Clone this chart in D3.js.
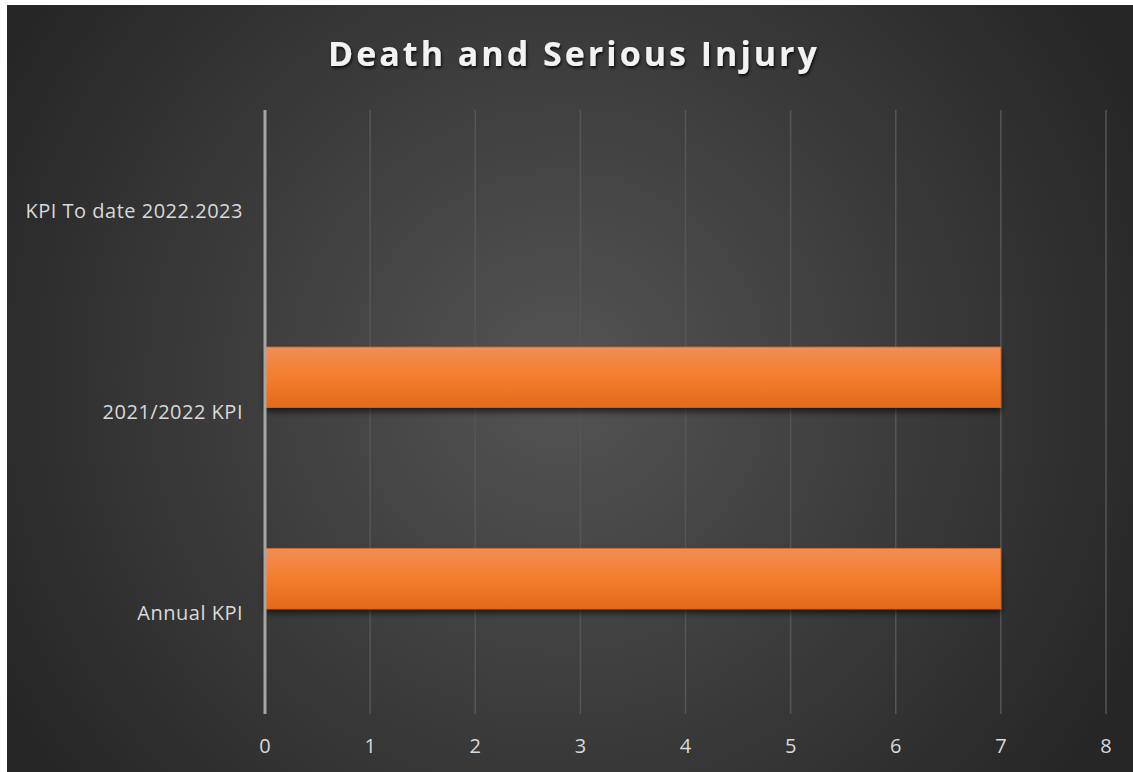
<!DOCTYPE html>
<html>
<head>
<meta charset="utf-8">
<script src="https://cdn.jsdelivr.net/npm/d3@7"></script>
<style>
  body { margin: 0; background: #fff; }
  svg { display: block; }
</style>
</head>
<body>
<div id="chart"></div>
<script>
const width = 1133;
const height = 772;
const margin = { top: 110, bottom: 58, left: 265, right: 27 };
const innerWidth = width - margin.left - margin.right;
const innerHeight = height - margin.top - margin.bottom;

// data (top to bottom)
const categories = ['KPI To date 2022.2023', '2021/2022 KPI', 'Annual KPI'];
const kpiValues = [null, 7, 7];
const seriesNames = ['KPI', 'blank'];
const xTicks = [0, 1, 2, 3, 4, 5, 6, 7, 8];

const svg = d3.select('#chart').append('svg')
  .attr('width', width)
  .attr('height', height);

const defs = svg.append('defs');

const bg = defs.append('radialGradient')
  .attr('id', 'bgGrad')
  .attr('gradientUnits', 'userSpaceOnUse')
  .attr('cx', 560).attr('cy', 380).attr('r', 640);
bg.append('stop').attr('offset', '0%').attr('stop-color', '#545454');
bg.append('stop').attr('offset', '100%').attr('stop-color', '#262626');

const barGrad = defs.append('linearGradient')
  .attr('id', 'barGrad')
  .attr('x1', 0).attr('y1', 0).attr('x2', 0).attr('y2', 1);
barGrad.append('stop').attr('offset', '0%').attr('stop-color', '#f18d57');
barGrad.append('stop').attr('offset', '50%').attr('stop-color', '#f47d2c');
barGrad.append('stop').attr('offset', '100%').attr('stop-color', '#e3691a');

const shadow = defs.append('filter').attr('id', 'barShadow')
  .attr('x', '-5%').attr('y', '-20%').attr('width', '110%').attr('height', '160%');
shadow.append('feDropShadow')
  .attr('dx', 0).attr('dy', 4).attr('stdDeviation', 3)
  .attr('flood-color', '#000').attr('flood-opacity', 0.6);

const titleShadow = defs.append('filter').attr('id', 'titleShadow');
titleShadow.append('feDropShadow')
  .attr('dx', 1).attr('dy', 2).attr('stdDeviation', 1.5)
  .attr('flood-color', '#000').attr('flood-opacity', 0.8);

// chart background
svg.append('rect')
  .attr('x', 7).attr('y', 5)
  .attr('width', width - 7).attr('height', height - 5)
  .attr('fill', 'url(#bgGrad)');

svg.append('text')
  .attr('x', 574)
  .attr('y', 54)
  .attr('dy', '0.35em')
  .attr('text-anchor', 'middle')
  .attr('fill', '#f2f2f2')
  .style('font-family', '"Open Sans", sans-serif')
  .style('font-size', '34px')
  .style('font-weight', 'bold')
  .style('letter-spacing', '3px')
  .attr('filter', 'url(#titleShadow)')
  .text('Death and Serious Injury');

const g = svg.append('g')
  .attr('transform', `translate(${margin.left}, ${margin.top})`);

const xScale = d3.scaleLinear()
  .domain([0, 8])
  .range([0, innerWidth]);

const yScale = d3.scaleBand()
  .domain(categories)
  .range([0, innerHeight]);

// two series per category in excel; only the first has values
const ySub = d3.scaleBand()
  .domain(seriesNames)
  .range([0, yScale.bandwidth()])
  .paddingInner(0.128)
  .paddingOuter(0.514);

// gridlines
g.selectAll('.grid')
  .data(xTicks.filter(d => d > 0))
  .enter().append('line')
  .attr('x1', d => xScale(d)).attr('x2', d => xScale(d))
  .attr('y1', 0).attr('y2', innerHeight)
  .attr('stroke', '#565656')
  .attr('stroke-width', 1.5);

// bars
g.selectAll('.bar')
  .data(categories.map((c, i) => ({ cat: c, value: kpiValues[i] })).filter(d => d.value != null))
  .enter().append('rect')
  .attr('x', xScale(0))
  .attr('y', d => yScale(d.cat) + ySub('KPI'))
  .attr('width', d => xScale(d.value) - xScale(0))
  .attr('height', ySub.bandwidth())
  .attr('fill', 'url(#barGrad)')
  .attr('stroke', '#d9661c')
  .attr('stroke-width', 0.8)
  .attr('filter', 'url(#barShadow)');

// vertical axis line
g.append('line')
  .attr('x1', xScale(0)).attr('x2', xScale(0))
  .attr('y1', 0).attr('y2', innerHeight)
  .attr('stroke', '#a6a6a6')
  .attr('stroke-width', 3);

// category labels
g.selectAll('.cat')
  .data(categories)
  .enter().append('text')
  .attr('x', -22)
  .attr('y', d => yScale(d) + yScale.bandwidth() / 2)
  .attr('dy', '0.35em')
  .attr('text-anchor', 'end')
  .attr('fill', '#d9d9d9')
  .style('font-family', '"Open Sans", sans-serif')
  .style('font-size', '20px')
  .style('letter-spacing', '0.5px')
  .text(d => d);

// x tick labels
g.selectAll('.tick')
  .data(xTicks)
  .enter().append('text')
  .attr('x', d => xScale(d))
  .attr('y', innerHeight + 32)
  .attr('dy', '0.35em')
  .attr('text-anchor', 'middle')
  .attr('fill', '#d9d9d9')
  .style('font-family', '"Open Sans", sans-serif')
  .style('font-size', '20px')
  .text(d => d);
</script>
</body>
</html>
